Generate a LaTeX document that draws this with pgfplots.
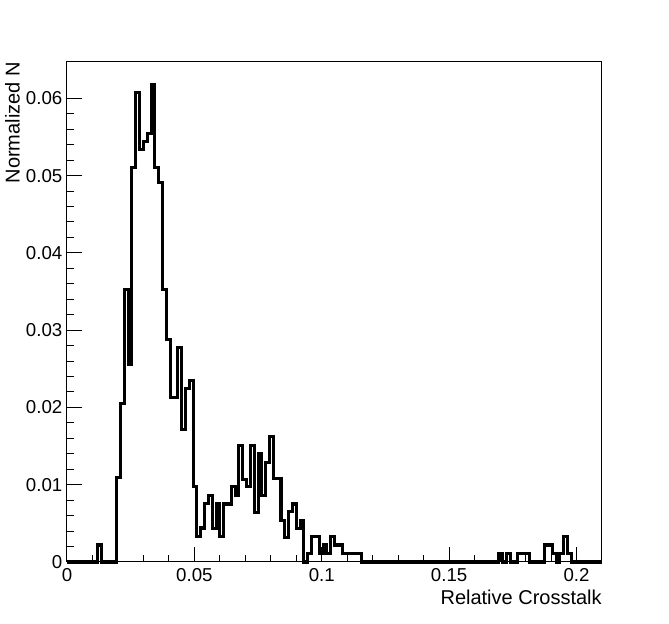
\documentclass[border=0pt]{standalone}
\usepackage{fontspec}
\setmainfont{Liberation Sans}
\usepackage{pgfplots}
\pgfplotsset{compat=1.18}
\begin{document}
\begin{tikzpicture}
\path[use as bounding box] (-50.25pt,-46.5pt) rectangle (451.5pt,421.5pt);
\begin{axis}[
    scale only axis, width=401.25pt, height=375pt,
    anchor=south west, at={(0pt,0pt)},
    xmin=0, xmax=0.21, ymin=0, ymax=0.0647,
    xtick={0,0.05,0.1,0.15,0.2},
    ytick={0,0.01,0.02,0.03,0.04,0.05,0.06},
    minor x tick num=4, minor y tick num=4,
    scaled ticks=false,
    tick pos=left, tick align=inside,
    major tick length=11pt, minor tick length=5.5pt,
    every tick/.style={black, line width=0.75pt},
    axis line style={line width=0.75pt},
    /pgf/number format/fixed, /pgf/number format/precision=2,
    /pgf/number format/assume math mode=true,
    tick label style={font=\fontsize{14}{16}\selectfont},
    xticklabel style={yshift=-1pt},
    xlabel={Relative Crosstalk},
    ylabel={Normalized N},
    xlabel style={at={(axis description cs:1,-0.055)}, anchor=north east,
                  inner sep=0pt, font=\fontsize{15}{18}\selectfont},
    ylabel style={at={(axis description cs:-0.0878,1)}, anchor=south east,
                  inner sep=0pt, font=\fontsize{15}{18}\selectfont},
    clip=false,
  ]
% bin width 0.0015, left edge and content
\addplot[const plot, black, line width=2.3pt] coordinates {
  (0,0) (0.0015,0) (0.003,0) (0.0045,0) (0.006,0) (0.0075,0) (0.009,0) (0.0105,0)
  (0.012,0.0022) (0.0135,0) (0.015,0) (0.0165,0) (0.018,0)
  (0.0195,0.0109) (0.021,0.0205) (0.0225,0.0352) (0.024,0.0256) (0.0255,0.0511)
  (0.027,0.0608) (0.0285,0.0534) (0.03,0.0544) (0.0315,0.0555) (0.033,0.0618)
  (0.0345,0.0511) (0.036,0.0491) (0.0375,0.0352) (0.039,0.0288) (0.0405,0.0213)
  (0.042,0.0213) (0.0435,0.0278) (0.045,0.0171) (0.0465,0.0225) (0.048,0.0235)
  (0.0495,0.0098) (0.051,0.0033) (0.0525,0.0044) (0.054,0.0076) (0.0555,0.0086)
  (0.057,0.0043) (0.0585,0.0075) (0.06,0.0033) (0.0615,0.0075) (0.063,0.0075)
  (0.0645,0.0098) (0.066,0.0086) (0.0675,0.0151) (0.069,0.0107) (0.0705,0.0098)
  (0.072,0.0151) (0.0735,0.0064) (0.075,0.0140) (0.0765,0.0086) (0.078,0.0129)
  (0.0795,0.0162) (0.081,0.0108) (0.0825,0.0108) (0.084,0.0054) (0.0855,0.0032)
  (0.087,0.0065) (0.0885,0.0075) (0.09,0.0043) (0.0915,0.0054) (0.093,0)
  (0.0945,0.0011) (0.096,0.0033) (0.0975,0.0033) (0.099,0.0011) (0.1005,0.0022)
  (0.102,0.0011) (0.1035,0.0033) (0.105,0.0022) (0.1065,0.0022) (0.108,0.0011)
  (0.1095,0.0011) (0.111,0.0011) (0.1125,0.0011) (0.114,0.0011) (0.1155,0)
  (0.168,0) (0.1695,0.0011) (0.171,0) (0.1725,0.0011) (0.174,0) (0.1755,0)
  (0.177,0.0011) (0.1785,0.0011) (0.18,0.0011) (0.1815,0)
  (0.1875,0.0022) (0.189,0.0022) (0.1905,0.0011) (0.192,0)
  (0.1935,0.0011) (0.195,0.0033) (0.1965,0.0011) (0.198,0) (0.21,0)
};
\end{axis}
\end{tikzpicture}
\end{document}
